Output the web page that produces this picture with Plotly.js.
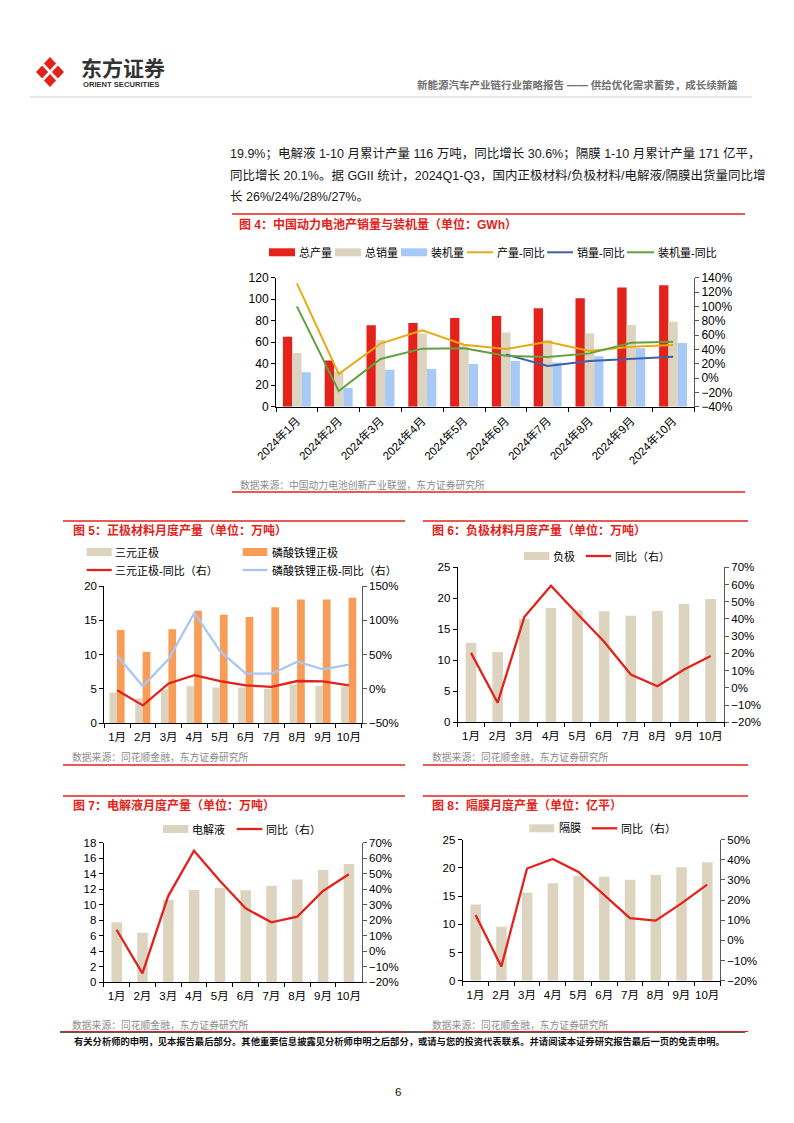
<!DOCTYPE html>
<html><head><meta charset="utf-8">
<script src="https://cdn.plot.ly/plotly-3.0.1.min.js"></script>
<style>html,body{margin:0;padding:0;background:#fff;}#c{width:794px;height:1123px;}</style>
</head><body><div id="c"></div>
<script>
// ---------- DATA ----------
const months4 = ['2024年1月','2024年2月','2024年3月','2024年4月','2024年5月','2024年6月','2024年7月','2024年8月','2024年9月','2024年10月'];
const prod4 = [65, 43, 75.7, 77.8, 82.5, 84.3, 91.5, 101, 111, 113];
const sales4 = [50, 33, 62, 68, 57, 69, 62, 68, 76, 79];
const inst4 = [32, 17.4, 34.4, 35, 39.7, 42.5, 41.2, 47, 54.3, 59.2];
const prodYoy4 = [132, 5.6, 48, 66.5, 46.5, 40.5, 50.7, 37.7, 43.7, 46];
const salesYoy4 = [null, null, null, null, null, 33, 16.7, 23.7, 27, 29.8];
const instYoy4 = [100, -18, 26.5, 41, 41.4, 31, 29.3, 34.4, 49.3, 50.7];

const months = ['1月','2月','3月','4月','5月','6月','7月','8月','9月','10月'];
const tern5 = [4.47, 3.6, 4.95, 5.4, 5.2, 5.2, 5.05, 5.6, 5.45, 5.35];
const lfp5 = [13.6, 10.4, 13.7, 16.4, 15.8, 15.5, 16.9, 18.05, 18.05, 18.3];
const ternYoy5 = [-2, -24, 8, 20, 11.6, 5.3, 3, 11.6, 11, 5.3];
const lfpYoy5 = [48.5, 4, 43.7, 110.7, 55, 22.3, 22.3, 39.8, 28.6, 35.4];

const anode6 = [12.85, 11.35, 16.67, 18.44, 18.06, 17.9, 17.2, 17.96, 19.1, 19.9];
const anodeYoy6 = [20.3, -8.6, 41.1, 59.3, 42.9, 26.8, 7.7, 0.9, 10.6, 18.5];

const elec7 = [7.73, 6.4, 10.6, 11.9, 12.16, 11.86, 12.46, 13.27, 14.48, 15.25];
const elecYoy7 = [13.9, -14.2, 35.6, 64.8, 45.5, 27.7, 18.7, 22.3, 38.9, 49.6];

const sep8 = [13.5, 9.57, 15.6, 17.26, 18.5, 18.44, 17.9, 18.73, 20.1, 21.0];
const sepYoy8 = [12.6, -13, 35.7, 40.4, 34, 22.5, 11.1, 9.8, 18.4, 27.7];

// ---------- STYLE ----------
const W = 794, H = 1123;
const px = x => x / W, py = y => 1 - y / H;
const FONT = 'Liberation Sans, Noto Sans CJK SC, sans-serif';
const RED = '#E3231B', BEIGE = '#DDD4C0', LBLUE = '#A8C9F6', YEL = '#E8AA12', DBLUE = '#3F5FA9', GREEN = '#62A03F', ORANGE = '#F89D58', LBLUE2 = '#A9C6F4';

const traces = [
  // Fig 4
  {type:'bar', x:months4, y:prod4, xaxis:'x', yaxis:'y', marker:{color:RED}, offset:-0.335, width:0.223},
  {type:'bar', x:months4, y:sales4, xaxis:'x', yaxis:'y', marker:{color:BEIGE}, offset:-0.112, width:0.223},
  {type:'bar', x:months4, y:inst4, xaxis:'x', yaxis:'y', marker:{color:LBLUE}, offset:0.111, width:0.223},
  {type:'scatter', mode:'lines', x:months4, y:prodYoy4, xaxis:'x', yaxis:'y2', line:{color:YEL, width:2}},
  {type:'scatter', mode:'lines', x:months4, y:salesYoy4, xaxis:'x', yaxis:'y2', line:{color:DBLUE, width:2}},
  {type:'scatter', mode:'lines', x:months4, y:instYoy4, xaxis:'x', yaxis:'y2', line:{color:GREEN, width:2}},
  // Fig 5
  {type:'bar', x:months, y:tern5, xaxis:'x2', yaxis:'y3', marker:{color:BEIGE}, offset:-0.3, width:0.29},
  {type:'bar', x:months, y:lfp5, xaxis:'x2', yaxis:'y3', marker:{color:ORANGE}, offset:-0.01, width:0.3},
  {type:'scatter', mode:'lines', x:months, y:ternYoy5, xaxis:'x2', yaxis:'y4', line:{color:RED, width:2.3}},
  {type:'scatter', mode:'lines', x:months, y:lfpYoy5, xaxis:'x2', yaxis:'y4', line:{color:LBLUE2, width:2.3}},
  // Fig 6
  {type:'bar', x:months, y:anode6, xaxis:'x3', yaxis:'y5', marker:{color:BEIGE}, offset:-0.2, width:0.4},
  {type:'scatter', mode:'lines', x:months, y:anodeYoy6, xaxis:'x3', yaxis:'y6', line:{color:RED, width:2.3}},
  // Fig 7
  {type:'bar', x:months, y:elec7, xaxis:'x4', yaxis:'y7', marker:{color:BEIGE}, offset:-0.2, width:0.41},
  {type:'scatter', mode:'lines', x:months, y:elecYoy7, xaxis:'x4', yaxis:'y8', line:{color:RED, width:2.3}},
  // Fig 8
  {type:'bar', x:months, y:sep8, xaxis:'x5', yaxis:'y9', marker:{color:BEIGE}, offset:-0.2, width:0.41},
  {type:'scatter', mode:'lines', x:months, y:sepYoy8, xaxis:'x5', yaxis:'y10', line:{color:RED, width:2.3}},
];

function xax(l, r, anchor, extra) {
  return Object.assign({domain:[px(l), px(r)], anchor:anchor, type:'category', showline:true, linecolor:'#000', linewidth:1,
    ticks:'outside', tickson:'boundaries', ticklen:4, tickcolor:'#000', showgrid:false, zeroline:false, tickangle:0,
    ticklabelstandoff:3, tickfont:{size:11.5, color:'#000'}, fixedrange:true}, extra || {});
}
function yl(t, b, anchor, range, dtick, size) {
  return {domain:[py(b), py(t)], anchor:anchor, range:range, dtick:dtick, showline:true, linecolor:'#000', linewidth:1,
    ticks:'outside', ticklen:4, tickcolor:'#000', showgrid:false, zeroline:false, tickfont:{size:size||11.5, color:'#000'}, fixedrange:true};
}
function yr(over, anchor, range, dtick, size) {
  return {overlaying:over, side:'right', anchor:anchor, range:range, dtick:dtick, ticksuffix:'%', showline:true, linecolor:'#595959', linewidth:1,
    ticks:'outside', ticklen:4, tickcolor:'#595959', showgrid:false, zeroline:false, tickfont:{size:size||11.5, color:'#000'}, fixedrange:true};
}

const shapes = [];
const ann = [];
function hline(x0, x1, y, color, w) { shapes.push({type:'line', xref:'paper', yref:'paper', x0:px(x0), x1:px(x1), y0:py(y), y1:py(y), line:{color:color, width:w||1.2}}); }
function box(x0, x1, yc, h, color) { shapes.push({type:'rect', xref:'paper', yref:'paper', x0:px(x0), x1:px(x1), y0:py(yc + h/2), y1:py(yc - h/2), fillcolor:color, line:{width:0}}); }
function lineKey(x0, x1, yc, color, w) { shapes.push({type:'line', xref:'paper', yref:'paper', x0:px(x0), x1:px(x1), y0:py(yc), y1:py(yc), line:{color:color, width:w||2.3}}); }
function text(x, y, s, size, color, opts) {
  ann.push(Object.assign({xref:'paper', yref:'paper', x:px(x), y:py(y), text:s, showarrow:false, xanchor:'left', yanchor:'middle',
    font:{size:size, color:color, family:FONT}}, opts || {}));
}

// Header / logo
const cx = 50, cy = 72, hw = 14, hh = 15;
shapes.push({type:'path', xref:'paper', yref:'paper', fillcolor:RED, line:{width:0},
  path:`M ${px(cx)} ${py(cy-hh)} L ${px(cx+hw)} ${py(cy)} L ${px(cx)} ${py(cy+hh)} L ${px(cx-hw)} ${py(cy)} Z`});
shapes.push({type:'line', xref:'paper', yref:'paper', x0:px(cx-hw/2), y0:py(cy-hh/2), x1:px(cx+hw/2), y1:py(cy+hh/2), line:{color:'#fff', width:2.6}});
shapes.push({type:'line', xref:'paper', yref:'paper', x0:px(cx+hw/2), y0:py(cy-hh/2), x1:px(cx-hw/2), y1:py(cy+hh/2), line:{color:'#fff', width:2.6}});
text(79, 69, '<b>东方证券</b>', 21, '#333');
text(81, 84.5, '<b>ORIENT SECURITIES</b>', 7.6, '#333');
text(740, 85, '<b>新能源汽车产业链行业策略报告 —— 供给优化需求蓄势，成长续新篇</b>', 10.5, '#707070', {xanchor:'right'});
hline(30, 752, 97, '#d0d0d0', 1);

// Paragraph
text(228, 153, '19.9%；电解液 1-10 月累计产量 116 万吨，同比增长 30.6%；隔膜 1-10 月累计产量 171 亿平，', 12.5, '#1a1a1a');
text(228, 175, '同比增长 20.1%。据 GGII 统计，2024Q1-Q3，国内正极材料/负极材料/电解液/隔膜出货量同比增', 12.5, '#1a1a1a');
text(228, 197, '长 26%/24%/28%/27%。', 12.5, '#1a1a1a');

// Fig 4
hline(232, 745, 214, RED, 1.3);
text(237, 224, '<b>图 4：中国动力电池产销量与装机量（单位：GWh）</b>', 12, RED);
box(269, 295, 252.3, 8, RED); text(296.5, 252.3, '总产量', 11, '#000');
box(335, 361, 252.3, 8, BEIGE); text(362.5, 252.3, '总销量', 11, '#000');
box(401, 427, 252.3, 8, LBLUE); text(428.5, 252.3, '装机量', 11, '#000');
lineKey(467, 493, 252.3, YEL, 2); text(494.5, 252.3, '产量-同比', 11, '#000');
lineKey(547, 573, 252.3, DBLUE, 2); text(574.5, 252.3, '销量-同比', 11, '#000');
lineKey(627, 654, 252.3, GREEN, 2); text(655.5, 252.3, '装机量-同比', 11, '#000');
text(238, 485, '数据来源：中国动力电池创新产业联盟，东方证券研究所', 9.8, '#8c8c8c');
hline(232, 745, 492, RED, 1.3);

// Fig 5
hline(63, 405, 521, RED, 1.3);
text(71, 530.7, '<b>图 5：正极材料月度产量（单位：万吨）</b>', 12, RED);
box(86.7, 111.7, 552, 8, BEIGE); text(113, 552, '三元正极', 11, '#000');
box(242.7, 267.3, 552, 8, ORANGE); text(269.5, 552, '磷酸铁锂正极', 11, '#000');
lineKey(86.7, 111.7, 570, RED); text(113, 570, '三元正极-同比（右）', 11, '#000');
lineKey(242.7, 267.3, 570, LBLUE2); text(269.5, 570, '磷酸铁锂正极-同比（右）', 11, '#000');
text(70, 757, '数据来源：同花顺金融，东方证券研究所', 9.8, '#8c8c8c');
hline(63, 405, 765, RED, 1.3);

// Fig 6
hline(423, 748, 521, RED, 1.3);
text(430, 530.7, '<b>图 6：负极材料月度产量（单位：万吨）</b>', 12, RED);
box(524, 549.3, 556, 8, BEIGE); text(551, 556, '负极', 11, '#000');
lineKey(585.7, 611, 556, RED); text(612.5, 556, '同比（右）', 11, '#000');
text(430, 757, '数据来源：同花顺金融，东方证券研究所', 9.8, '#8c8c8c');
hline(423, 748, 765, RED, 1.3);

// Fig 7
hline(63, 405, 796, RED, 1.3);
text(71, 805, '<b>图 7：电解液月度产量（单位：万吨）</b>', 12, RED);
box(163, 188.3, 829, 8, BEIGE); text(190, 829, '电解液', 11, '#000');
lineKey(236.7, 262.3, 829, RED); text(264, 829, '同比（右）', 11, '#000');
text(70, 1025, '数据来源：同花顺金融，东方证券研究所', 9.8, '#8c8c8c');

// Fig 8
hline(423, 748, 796, RED, 1.3);
text(430, 805, '<b>图 8：隔膜月度产量（单位：亿平）</b>', 12, RED);
box(529.3, 554.3, 828.3, 8, BEIGE); text(556.5, 828.3, '隔膜', 11, '#000');
lineKey(591.7, 617.3, 828.3, RED); text(619, 828.3, '同比（右）', 11, '#000');
text(430, 1025, '数据来源：同花顺金融，东方证券研究所', 9.8, '#8c8c8c');

// Footer
hline(60, 745, 1032, '#222', 1.4);
hline(63, 405, 1031.5, RED, 1.2);
hline(423, 748, 1031.5, RED, 1.2);
text(72, 1041, '<b>有关分析师的申明，见本报告最后部分。其他重要信息披露见分析师申明之后部分，或请与您的投资代表联系。并请阅读本证券研究报告最后一页的免责申明。</b>', 9.3, '#111');
text(398, 1092, '6', 11.5, '#111', {xanchor:'center'});

const layout = {
  width:W, height:H, margin:{l:0, r:0, t:0, b:0}, paper_bgcolor:'#fff', plot_bgcolor:'rgba(0,0,0,0)',
  showlegend:false, barmode:'group', font:{family:FONT, color:'#000'},
  xaxis: xax(276, 694, 'y', {tickangle:-45, ticklabelstandoff:2, tickfont:{size:11.5, color:'#000'}}),
  yaxis: yl(277.7, 406.7, 'x', [0,120], 20, 12),
  yaxis2: yr('y', 'x', [-40,140], 20, 12),
  xaxis2: xax(104.3, 361.7, 'y3'),
  yaxis3: yl(586, 723.3, 'x2', [0,20], 5),
  yaxis4: yr('y3', 'x2', [-50,150], 50),
  xaxis3: xax(457.7, 724, 'y5'),
  yaxis5: yl(567.3, 722.3, 'x3', [0,25], 5),
  yaxis6: yr('y5', 'x3', [-20,70], 10),
  xaxis4: xax(103.7, 361.7, 'y7'),
  yaxis7: yl(842.7, 982.3, 'x4', [0,18], 2),
  yaxis8: yr('y7', 'x4', [-20,70], 10),
  xaxis5: xax(462.7, 720, 'y9'),
  yaxis9: yl(839.7, 980.7, 'x5', [0,25], 5),
  yaxis10: yr('y9', 'x5', [-20,50], 10),
  shapes: shapes, annotations: ann
};
Plotly.newPlot('c', traces, layout, {staticPlot:true, displayModeBar:false});
</script></body></html>
